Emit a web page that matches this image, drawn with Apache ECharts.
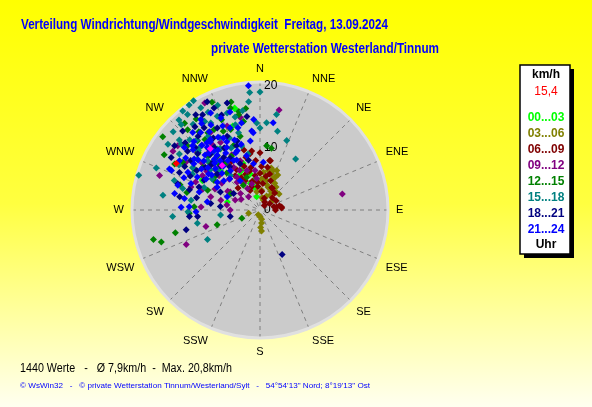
<!DOCTYPE html>
<html>
<head>
<meta charset="utf-8">
<script src="https://cdn.jsdelivr.net/npm/echarts@6/dist/echarts.min.js"></script>
<style>
  html, body { margin: 0; padding: 0; }
  #chart { width: 592px; height: 407px; }
</style>
</head>
<body>
<div id="chart"></div>
<script>
// compass labels, one per 22.5 deg
const directions = ['N', 'NNE', 'NE', 'ENE', 'E', 'ESE', 'SE', 'SSE', 'S', 'SSW', 'SW', 'WSW', 'W', 'WNW', 'NW', 'NNW']
const radiusTicks = [0, 10, 20]
const timeBins = ['00...03', '03...06', '06...09', '09...12', '12...15', '15...18', '18...21', '21...24']
const binColors = ['#00ff00', '#808000', '#800000', '#800080', '#008000', '#008080', '#000080', '#0000ff']

// [km/h, degrees]
const h00 = [[16.9, 346], [16.8, 346], [14.2, 342], [10.5, 298], [10.4, 297], [5.4, 284], [5.1, 351], [4.6, 340],
  [3.9, 344], [3.7, 348], [2.2, 346], [6.0, 345], [7.0, 335], [4.5, 355], [8.0, 340], [12.0, 325], [9.0, 315], [6.5, 330]]
const h03 = [[6.1, 5], [6.1, 17.6], [6.7, 18.4], [6.5, 11.8], [4.9, 29], [5.5, 22.8], [4.9, 12.5], [3.9, 42], [3.9, 19.6],
  [3.2, 4.8], [1.7, 18], [2.6, 53], [1.1, 180], [2.1, 173], [3.4, 176], [1.9, 254], [3.0, 350], [6.9, 23], [5.8, 25],
  [4.5, 35], [3.5, 30], [2.5, 25], [5.2, 8], [7.0, 15], [6.3, 27], [2.8, 178], [1.5, 170], [0.8, 200], [4.2, 15],
  [5.0, 3], [2.0, 10], [3.0, 35], [4.0, 50]]
const h06 = [[2.3, 77], [3.2, 78], [1.9, 56], [3.6, 41], [8.1, 11], [9.2, 0], [9.2, 350], [5.3, 333], [3.5, 333],
  [5.6, 352], [6.8, 324], [8.5, 338], [8.1, 12], [9.6, 352], [2.8, 45], [4.0, 30], [5.0, 20], [6.0, 15], [7.0, 10],
  [3.0, 60], [2.5, 90], [1.5, 30], [4.5, 355], [6.5, 345], [7.5, 340], [5.5, 10], [7.0, 2], [3.0, 5], [4.0, 340],
  [6.0, 330], [7.5, 330], [8.8, 345], [5.0, 315], [2.0, 20], [1.0, 45], [3.5, 85], [5.9, 0], [4.3, 6], [4.1, 27.5],
  [2.7, 80], [3.5, 82], [6.2, 338], [7.0, 348], [8.0, 355], [5.8, 326], [4.8, 345], [3.8, 355], [7.8, 320], [9.0, 328],
  [10.0, 345]]
const h09 = [[16.4, 10.8], [13.5, 79], [13.1, 245], [19.4, 332.7], [17.1, 289], [16.9, 304], [9.1, 253], [5.4, 278.5],
  [5.6, 301], [4.1, 310], [2.8, 319], [5.8, 320.5], [6.7, 341.6], [8.6, 310], [8.2, 285], [9.5, 273], [11.7, 288.4],
  [12.4, 316.7], [12.6, 329.7], [13.7, 312.6], [14.8, 327.4], [14.5, 338.6], [15.2, 348], [6.4, 352.9], [4.4, 342.6],
  [4.3, 291.8], [6.5, 284], [10.8, 301], [14.2, 302.8], [16.8, 308], [10.5, 315], [8.1, 328.4], [5.1, 354], [4.8, 270],
  [11.3, 293.5], [7.0, 315], [9.0, 325], [11.0, 320], [6.0, 300], [8.0, 295], [10.0, 333], [7.5, 305], [9.6, 312],
  [10.6, 306], [12.0, 309], [13.0, 324], [14.0, 318], [8.5, 338], [7.2, 333], [6.5, 325], [5.0, 328], [4.0, 330],
  [3.5, 300], [9.8, 290], [11.5, 330]]
const h12 = [[17.8, 254.5], [16.7, 252], [14.1, 255], [17.8, 300], [19.6, 307], [7.3, 251], [3.2, 245.6], [4.8, 326],
  [17.1, 343.8], [15.7, 347.4], [14.5, 349.5], [10.4, 5.9], [10.1, 10.5], [15.6, 311.6], [15.6, 298.3], [13.5, 287.6],
  [11.4, 267.3], [10.6, 272.9], [9.0, 290.6], [11.5, 306.6], [11.1, 321.8], [9.3, 323], [11.2, 337.7], [12.3, 345],
  [17.4, 318], [16.9, 327.8], [14.9, 330.3], [11.7, 327], [15.0, 317.9], [5.4, 299], [8.8, 302.7], [12.1, 283.5],
  [14.6, 301.7], [5.7, 338], [16.2, 347.8], [13.0, 320], [11.0, 313], [15.0, 326], [9.8, 332], [12.5, 302], [14.0, 335],
  [12.0, 316], [13.6, 313], [14.4, 322], [16.0, 322], [17.9, 325], [18.5, 319], [10.2, 318], [9.0, 307], [8.0, 318],
  [13.8, 340], [15.8, 337], [16.5, 352], [18.0, 345], [19.0, 336]]
const h15 = [[19.0, 355], [19.0, 0], [20.6, 328.7], [20.4, 326], [15.6, 9.8], [14.1, 4.3], [13.0, 12.5], [12.0, 21],
  [10.0, 35], [20.3, 286], [18.0, 292], [15.8, 278.7], [14.1, 265.7], [9.7, 240.6], [10.3, 258], [6.4, 262.9],
  [18.7, 317.3], [19.3, 322.8], [19.0, 329.9], [16.6, 335.5], [16.1, 330.5], [16.5, 341.3], [14.3, 343.9], [14.0, 357.8],
  [13.2, 0], [16.5, 309.8], [18.2, 305.5], [15.8, 304.8], [12.3, 298], [12.9, 285.5], [11.2, 278], [9.7, 292],
  [9.4, 312.7], [7.3, 319.4], [11.6, 313], [13.3, 331], [14.0, 317], [12.9, 344.5], [11.6, 268.7], [9.2, 303],
  [14.6, 289], [9.2, 348], [10.7, 344], [12.0, 321], [14.5, 325], [10.5, 318], [16.0, 315], [13.0, 309], [17.5, 322],
  [11.0, 335], [13.8, 314], [15.2, 318], [16.8, 328], [17.8, 332], [18.2, 338], [15.5, 345], [12.6, 337], [11.8, 327],
  [10.3, 309], [12.8, 302], [14.9, 299], [17.2, 311], [18.8, 312], [19.5, 318], [20.2, 322], [16.2, 350], [17.5, 354]]
const h18 = [[20.9, 331], [17.9, 328.9], [18.0, 335.7], [18.0, 342.9], [14.9, 332.5], [16.0, 325.8], [17.8, 315.6],
  [17.2, 306.9], [16.6, 300.6], [14.3, 295], [13.9, 287.7], [13.1, 279.3], [12.3, 255], [10.1, 264], [11.4, 264.7],
  [8.0, 277.6], [4.9, 257.5], [7.0, 294.6], [10.5, 290.7], [10.7, 312], [10.3, 325.5], [11.7, 341.6], [8.1, 336.8],
  [12.8, 320], [13.7, 305.5], [8.0, 153.6], [15.2, 352], [19.4, 334], [5.0, 302], [8.2, 347], [10.4, 281], [6.4, 275],
  [12.0, 318], [13.5, 312], [10.0, 322], [15.5, 320], [11.5, 330], [9.0, 310], [14.0, 300], [16.5, 338], [12.5, 296],
  [9.5, 318], [10.8, 316], [12.5, 324], [13.8, 327], [11.2, 308], [12.0, 302], [14.5, 314], [15.0, 309], [16.2, 312],
  [17.0, 322], [18.5, 326], [13.0, 336], [11.0, 340], [9.6, 330], [8.5, 325], [10.2, 298], [11.8, 286]]
const h21 = [[20.1, 354.7], [14.6, 356], [12.5, 355], [14.2, 8.6], [7.7, 4], [10.2, 339], [13.0, 333], [13.9, 325],
  [15.7, 322.5], [15.0, 313.6], [15.2, 301.5], [15.6, 294], [13.8, 286.7], [12.3, 278.7], [11.4, 272.7], [10.2, 286.6],
  [10.1, 305], [10.2, 321], [7.9, 323], [5.7, 326], [7.8, 298], [12.0, 311], [14.1, 340], [14.3, 348], [16.1, 337],
  [17.5, 333], [17.4, 326.8], [16.5, 319], [15.8, 309.6], [16.0, 294.4], [14.0, 281], [12.7, 272], [10.3, 268.5],
  [8.6, 279], [5.7, 292], [12.8, 354], [11.2, 352], [13.1, 297.6], [12.1, 322], [11.4, 332], [11.4, 297.8], [7.5, 309],
  [7.5, 352], [9.0, 332], [13.4, 307.8], [13.8, 321.7], [11.0, 318], [12.5, 315], [9.5, 327], [13.5, 330], [10.8, 309],
  [14.5, 312], [8.9, 335], [12.0, 340], [15.0, 327], [10.0, 300], [16.5, 343], [13.0, 305], [11.8, 325], [9.0, 346],
  [14.8, 336], [9.8, 313], [10.5, 316], [11.2, 322], [12.3, 318], [13.2, 320], [10.7, 329], [9.2, 320], [8.5, 314],
  [11.5, 305], [12.8, 309], [14.0, 318], [13.6, 324], [12.2, 334], [10.0, 337], [11.0, 344], [13.7, 345], [15.8, 330],
  [16.8, 326], [9.6, 306], [8.2, 303], [7.0, 316], [11.9, 291], [13.3, 293], [14.6, 305], [15.3, 316]]
const currentValue = [[15.4, 299]]
const marked = [[9.4, 319.6], [12.7, 321]]
const binData = [h00, h03, h06, h09, h12, h15, h18, h21]

const chart = echarts.init(document.getElementById('chart'), null, { renderer: 'canvas' })

const mkScatter = (name, data, color, z) => ({
  name,
  type: 'scatter',
  coordinateSystem: 'polar',
  symbol: 'diamond',
  symbolSize: 7,
  itemStyle: { color, opacity: 1 },
  silent: true,
  z,
  data,
})

// squeeze text into the width it has in the picture
const ctx = document.createElement('canvas').getContext('2d')
const fitText = (text, font, x, y, width, fill) => {
  ctx.font = font
  const w = ctx.measureText(text).width
  return {
    type: 'text', x, y, scaleX: width / w, originX: 0, originY: 0, z: 100,
    style: { text, fill, font, verticalAlign: 'middle', x: 0, y: 0 },
  }
}

const fontTitle = 'bold 14px "Liberation Sans", Arial, sans-serif'
const legendFont = 'bold 12px "Liberation Sans", Arial, sans-serif'
const legendTexts = [['km/h', '#000', 75], ['15,4', '#ff0000', 92]]
  .concat(timeBins.map((b, i) => [b, binColors[i], 118 + i * 16]))
  .concat([['Uhr', '#000', 245]])

chart.setOption({
  animation: false,
  backgroundColor: new echarts.graphic.LinearGradient(0, 0, 0, 1, [
    { offset: 0, color: '#ffff00' },
    { offset: 0.5, color: '#ffff40' },
    { offset: 1, color: '#fffff0' },
  ]),
  polar: { center: [260, 210], radius: 128 },
  angleAxis: {
    type: 'value',
    min: 0,
    max: 360,
    interval: 22.5,
    startAngle: 90,
    clockwise: true,
    axisLine: { lineStyle: { color: '#e0e0e0', width: 3 } },
    axisTick: { show: false },
    axisLabel: {
      margin: 8,
      color: '#000',
      fontSize: 11,
      fontFamily: 'Liberation Sans, Arial, sans-serif',
      formatter: (v) => (v >= 360 ? '' : directions[Math.round(v / 22.5)]),
    },
    splitLine: { lineStyle: { type: [4, 4], color: '#7f7f7f', width: 1 } },
  },
  radiusAxis: {
    min: 0,
    max: 20.6,
    interval: 10,
    axisLine: { show: false },
    axisTick: { show: false },
    axisLabel: {
      margin: -4,
      align: 'left',
      color: '#000',
      fontSize: 12,
      fontFamily: 'Liberation Sans, Arial, sans-serif',
      formatter: (v) => (radiusTicks.includes(v) ? String(v) : ''),
    },
    splitLine: {
      lineStyle: { type: [4, 4], color: ['#7f7f7f', '#7f7f7f', '#7f7f7f', 'rgba(0,0,0,0)'], width: 1 },
    },
    splitArea: { show: true, areaStyle: { color: ['#cbcbcb'] } },
  },
  series: binData
    .map((d, i) => mkScatter(timeBins[i], d, binColors[i], 2 + i))
    .concat([mkScatter('aktuell', currentValue, '#ff0000', 12), mkScatter('mark', marked, '#ff00ff', 12)]),
  graphic: [
    fitText('Verteilung Windrichtung/Windgeschwindigkeit  Freitag, 13.09.2024', fontTitle, 21, 25, 367, '#0000ff'),
    fitText('private Wetterstation Westerland/Tinnum', fontTitle, 211, 49, 228, '#0000ff'),
    { type: 'rect', shape: { x: 524, y: 69, width: 50, height: 189 }, style: { fill: '#000' } },
    { type: 'rect', shape: { x: 520, y: 65, width: 50, height: 189 }, style: { fill: '#fff', stroke: '#000', lineWidth: 1.5 } },
    ...legendTexts.map(([t, c, y]) => ({
      type: 'text', x: 546, y, z: 100,
      style: { text: t, fill: c, font: t === '15,4' ? '12px "Liberation Sans", Arial, sans-serif' : legendFont, align: 'center', verticalAlign: 'middle' },
    })),
    fitText('1440 Werte   -   Ø 7,9km/h  -  Max. 20,8km/h', '12px "Liberation Sans", Arial, sans-serif', 20, 369, 212, '#000'),
    fitText('© WsWin32   -   © private Wetterstation Tinnum/Westerland/Sylt   -   54°54\'13" Nord; 8°19\'13" Ost', '8px "Liberation Sans", Arial, sans-serif', 20, 386, 350, '#0000ff'),
  ],
})
</script>
</body>
</html>
